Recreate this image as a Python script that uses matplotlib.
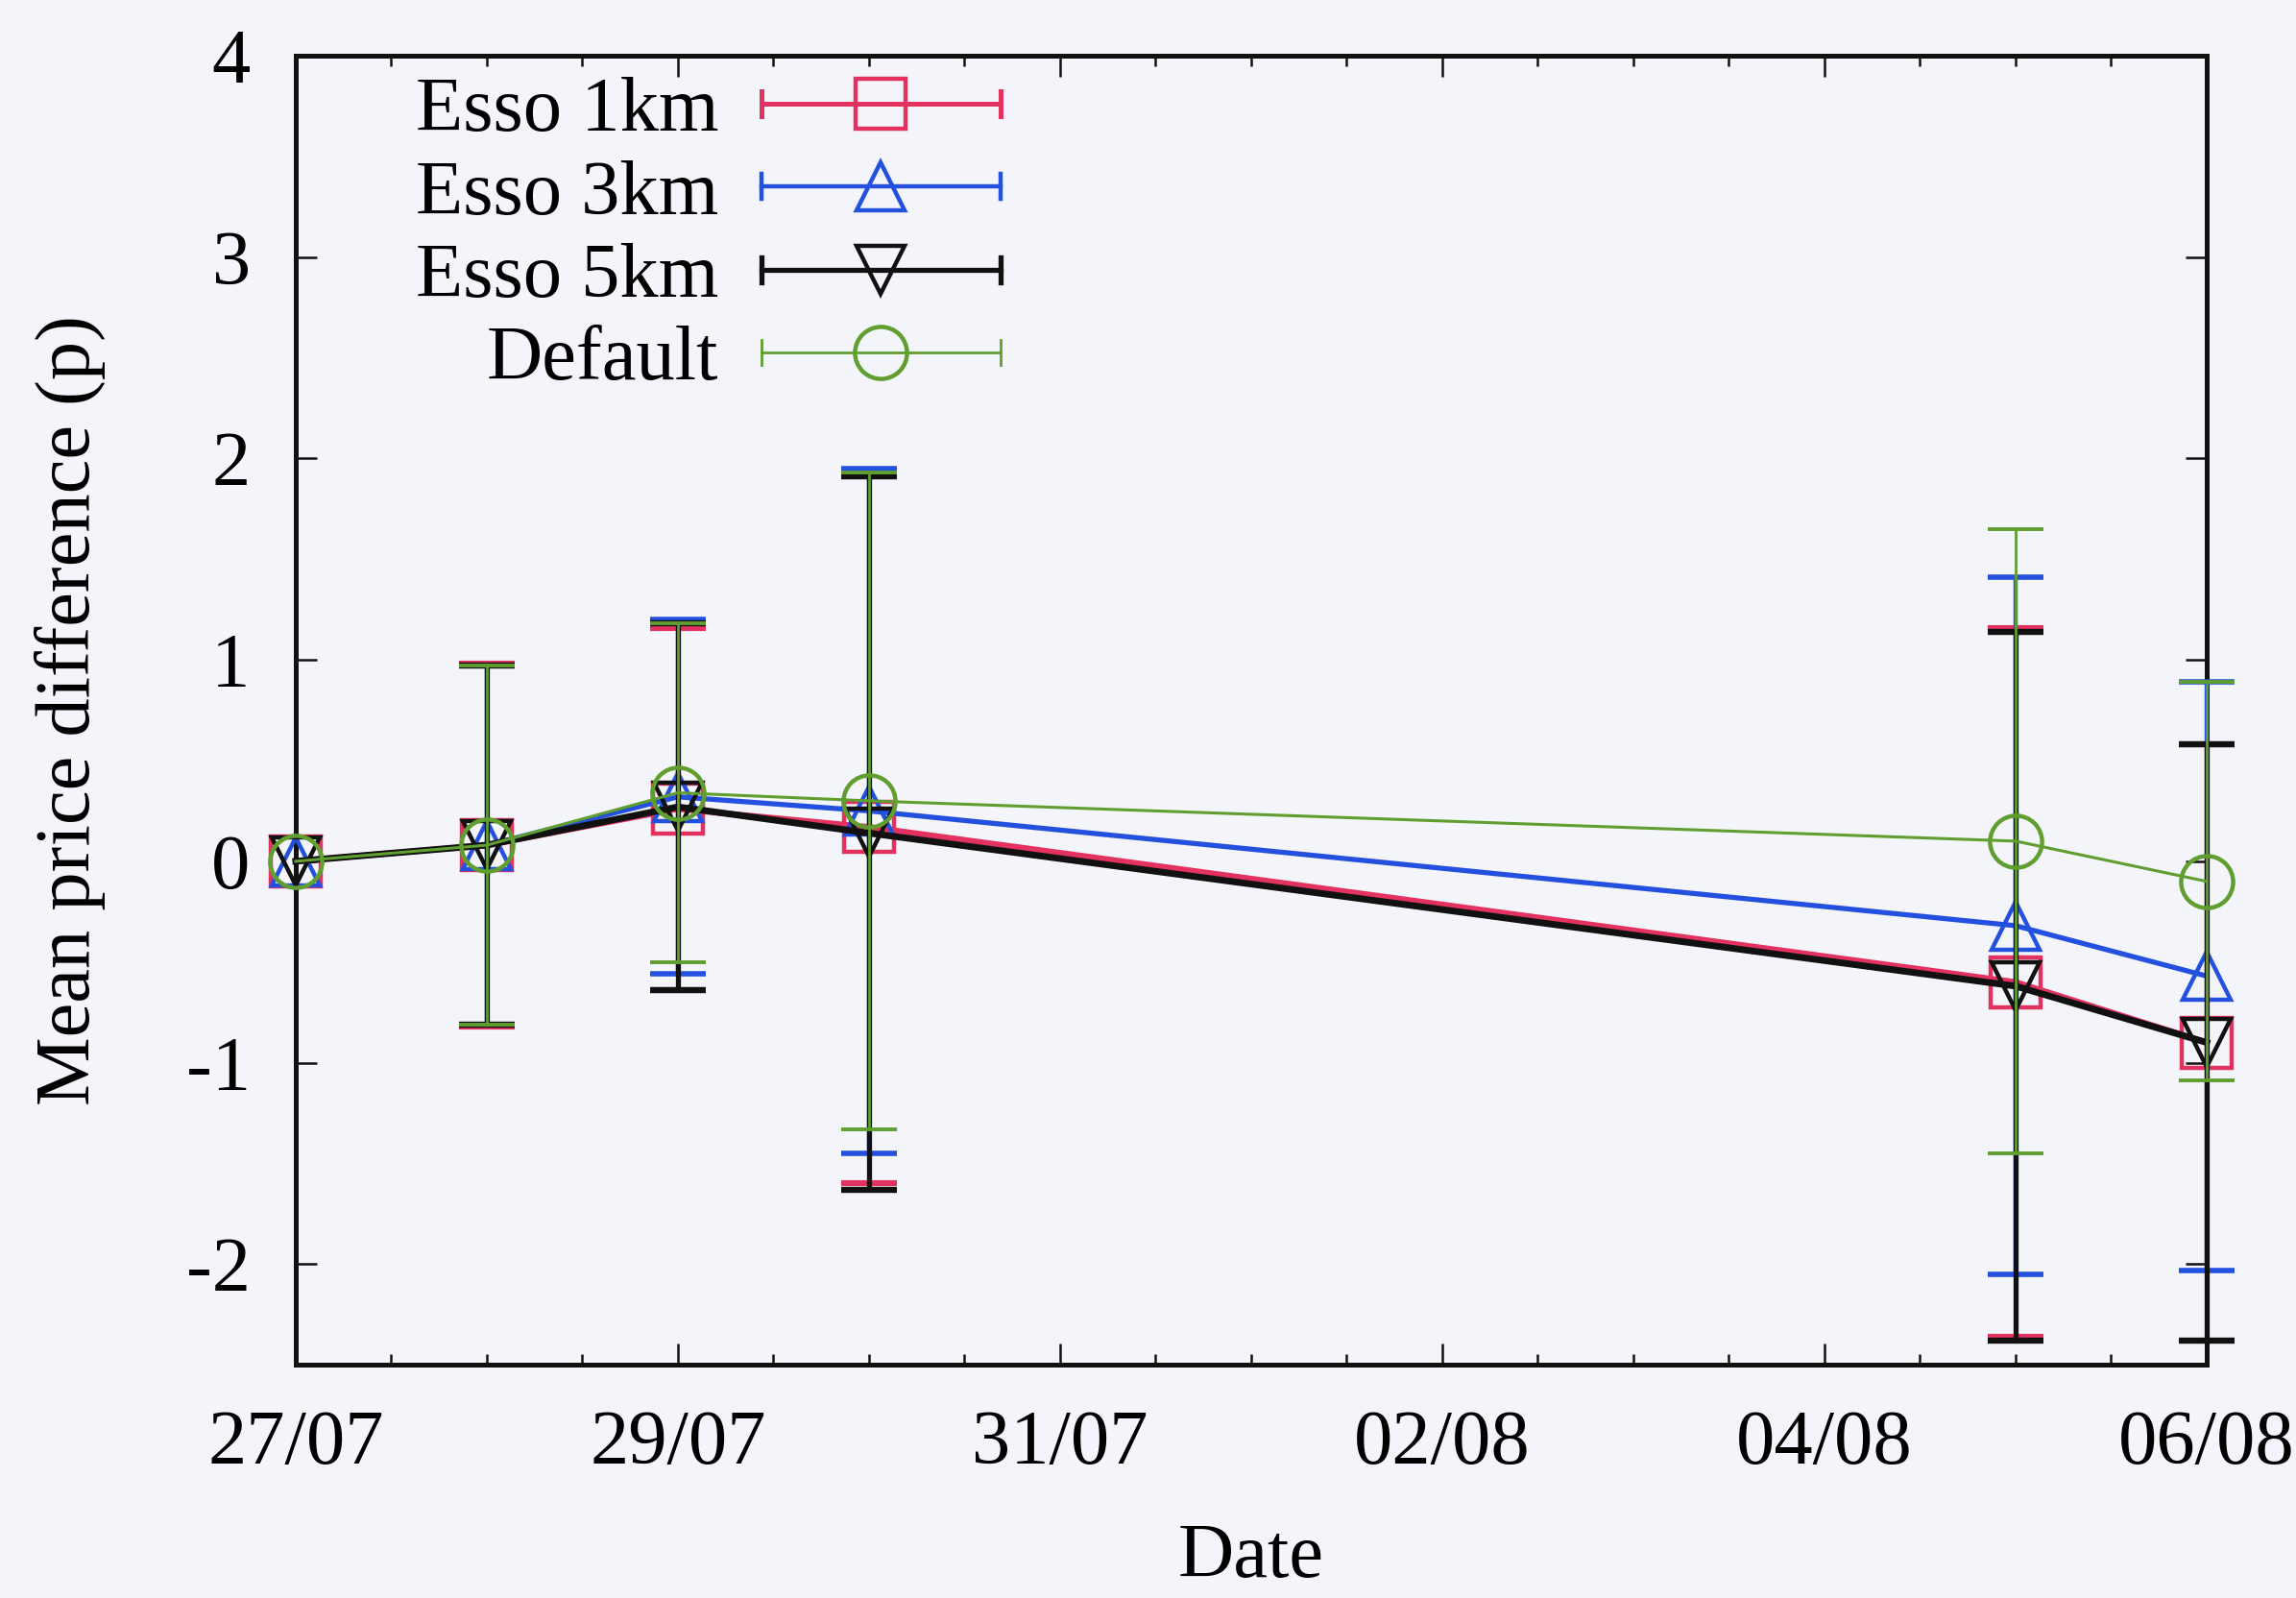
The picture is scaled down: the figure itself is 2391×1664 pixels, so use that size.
import numpy as np
import pandas as pd
import matplotlib
matplotlib.use("Agg")
import matplotlib.pyplot as plt
import matplotlib.dates as mdates
from matplotlib.lines import Line2D
from matplotlib.legend_handler import HandlerBase
from matplotlib.ticker import AutoMinorLocator, NullLocator, FixedLocator

# ---- data -------------------------------------------------------------
dates = ["27/07", "28/07", "29/07", "30/07", "05/08", "06/08"]
tick_dates = ["27/07", "29/07", "31/07", "02/08", "04/08", "06/08"]

series_names = ["Esso 1km", "Esso 3km", "Esso 5km", "Default"]

esso1_mean = [0.00, 0.08, 0.26, 0.17, -0.60, -0.90]
esso1_err = [0.00, 0.90, 0.90, 1.77, 1.76, 1.48]

esso3_mean = [0.00, 0.08, 0.32, 0.25, -0.32, -0.57]
esso3_err = [0.00, 0.89, 0.88, 1.70, 1.73, 1.46]

esso5_mean = [0.00, 0.08, 0.27, 0.14, -0.62, -0.90]
esso5_err = [0.00, 0.89, 0.91, 1.77, 1.76, 1.48]

default_mean = [0.00, 0.08, 0.34, 0.30, 0.10, -0.10]
default_err = [0.00, 0.89, 0.84, 1.63, 1.55, 0.99]

means = [esso1_mean, esso3_mean, esso5_mean, default_mean]
errs = [esso1_err, esso3_err, esso5_err, default_err]

# ---- styles -----------------------------------------------------------
colors = ["#e3325f", "#2450e0", "#111111", "#5f9e2f"]
markers = ["s", "^", "v", "o"]
marker_sizes = [19, 18, 18, 19.5]
line_widths = [2.2, 1.9, 2.5, 1.1]
err_widths = [1.8, 1.6, 1.9, 1.0]

plt.rcParams["font.family"] = ["Liberation Serif", "DejaVu Serif"]
plt.rcParams["font.size"] = 29

bg = "#f4f5fa"
fig = plt.figure(figsize=(2391 / 200, 1664 / 200), dpi=200, facecolor=bg)
ax = fig.add_axes([0.1288, 0.1460, 0.9611 - 0.1288, 0.9651 - 0.1460])
ax.set_facecolor(bg)

x = pd.to_datetime(dates, format="%d/%m")
xticks = pd.to_datetime(tick_dates, format="%d/%m")

for i, name in enumerate(series_names):
    m = np.asarray(means[i], float)
    e = np.asarray(errs[i], float)
    has_err = e > 0
    z = 2 + i
    cont = ax.errorbar(x[has_err], m[has_err], yerr=e[has_err], fmt="none",
                       ecolor=colors[i], elinewidth=err_widths[i], capsize=10.5,
                       capthick=err_widths[i] + 0.4, zorder=z)
    for art in cont.get_children():
        art.set_clip_on(False)
    ax.plot(x, m, color=colors[i], lw=line_widths[i], marker=markers[i],
            ms=marker_sizes[i], mfc="none", mec=colors[i], mew=1.6,
            zorder=z + 0.5, clip_on=False)

# ---- axes -------------------------------------------------------------
ax.set_xlim(xticks[0], xticks[-1])
ax.set_ylim(-2.5, 4)
ax.xaxis.set_major_locator(FixedLocator(mdates.date2num(xticks)))
ax.xaxis.set_major_formatter(mdates.DateFormatter("%d/%m"))
ax.xaxis.set_minor_locator(AutoMinorLocator(4))
ax.set_yticks([-2, -1, 0, 1, 2, 3, 4])
ax.set_yticklabels(["-2", "-1", "0", "1", "2", "3", "4"])
ax.yaxis.set_minor_locator(NullLocator())

ax.tick_params(which="both", direction="in", top=True, right=True,
               width=0.9, color="#111111")
ax.tick_params(which="major", length=8)
ax.tick_params(which="minor", length=3.8)
ax.tick_params(axis="x", which="major", pad=17)
ax.tick_params(axis="y", which="major", pad=17)
for s in ax.spines.values():
    s.set_linewidth(1.8)
    s.set_color("#111111")

ax.set_xlabel("Date", labelpad=16)
ax.set_ylabel("Mean price difference (p)", labelpad=30)


# ---- key with end caps on the sample line --------------------------------
class KeyHandler(HandlerBase):
    def create_artists(self, legend, orig_handle, xdescent, ydescent,
                       width, height, fontsize, trans):
        y = height / 2 - ydescent
        x0, x1 = -xdescent, width - xdescent
        cap = 0.16 * fontsize
        c = orig_handle.get_color()
        lw = orig_handle.get_linewidth()
        line = Line2D([x0, x1], [y, y], color=c, lw=lw)
        ends = Line2D([x0, x0, np.nan, x1, x1],
                      [y - cap, y + cap, np.nan, y - cap, y + cap],
                      color=c, lw=lw)
        mark = Line2D([(x0 + x1) / 2], [y], marker=orig_handle.get_marker(),
                      ms=orig_handle.get_markersize(), mfc="none", mec=c,
                      mew=orig_handle.get_markeredgewidth(), ls="none")
        for a in (line, ends, mark):
            a.set_transform(trans)
        return [line, ends, mark]


proxies = [Line2D([], [], color=colors[i], lw=err_widths[i], marker=markers[i],
                  ms=marker_sizes[i], mew=1.6) for i in range(len(series_names))]
leg = ax.legend(proxies, series_names, loc="upper right",
                bbox_to_anchor=(0.369, 0.984), frameon=False, markerfirst=False,
                handlelength=3.1, handletextpad=0.55, labelspacing=0.16,
                borderpad=0, borderaxespad=0,
                handler_map={Line2D: KeyHandler()})
leg.set_zorder(10)

fig.savefig("out.png", dpi=200, facecolor=bg)
